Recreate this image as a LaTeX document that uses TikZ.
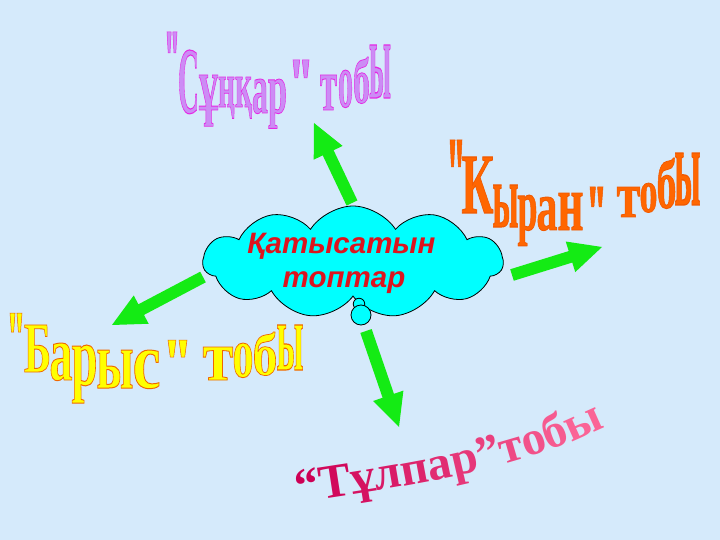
\documentclass[tikz,border=0pt]{standalone}
\usepackage{fontspec}
\setmainfont{Liberation Serif}
\newfontfamily\wafont{Liberation Serif Bold}[FakeBold=1.2]
\newfontfamily\tulfont{Liberation Serif}
\newfontfamily\capfont{Liberation Sans}
\usetikzlibrary{shapes.symbols,calc,decorations.text}
\definecolor{bgblue}{RGB}{213,234,251}
\definecolor{agreen}{RGB}{20,235,20}
\definecolor{ccyan}{RGB}{0,255,255}
\definecolor{capred}{RGB}{220,20,30}
\definecolor{tlL}{RGB}{205,0,85}
\definecolor{tlR}{RGB}{250,100,150}
% fill and outline colours of the WordArt titles (pdf colour specials)
\newcommand\sC{[0.80 0.55 0.96] [0.90 0.16 0.90]}
\newcommand\bC{[1 1 0] [0.94 0.40 0]}
\newcommand\kC{[1 0.40 0] [0.94 0.35 0]}
\newcommand\waf{\wafont\fontsize{20}{24}\selectfont}
\newcommand\capf{\capfont\bfseries\itshape\fontsize{29.5}{34}\selectfont}
\newcommand\tulf{\tulfont\bfseries\fontsize{48}{50}\selectfont}
\newcounter{wcn}
% x-centre, baseline, width, height, char, colours
\newcommand\wc[6]{\stepcounter{wcn}\node[anchor=base,inner sep=0pt] (wc\thewcn) at (#1,#2) {\waf\special{pdf:bcolor #6}\resizebox{#3pt}{#4pt}{#5}\special{pdf:ecolor}};}
% left, top, width, height, fill, outline
\newcommand\wq[6]{\foreach \qd in {0,0.58}{\filldraw[fill=#5,draw=#6,line width=0.5pt] ({#1+\qd*#3},#2) -- ({#1+(\qd+0.42)*#3},#2) -- ({#1+(\qd+0.3)*#3},{#2+#4}) -- ({#1+(\qd+0.12)*#3},{#2+#4}) -- cycle;}}
\definecolor{sfill}{RGB}{205,140,245}
\definecolor{sline}{RGB}{230,40,230}
\definecolor{bfill}{RGB}{255,255,0}
\definecolor{bline}{RGB}{240,100,0}
\definecolor{kfill}{RGB}{255,102,0}
\definecolor{kline}{RGB}{240,90,0}
% block arrow from tail to tip
\newcommand\garrow[2]{%
  \coordinate (#1h) at ($(#2)!33pt!(#1)$);
  \fill[agreen] ($(#1)!6pt!90:(#2)$) -- ($(#1h)!6pt!90:(#2)$) -- ($(#1h)!16pt!90:(#2)$) -- (#2)
    -- ($(#1h)!16pt!-90:(#2)$) -- ($(#1h)!6pt!-90:(#2)$) -- ($(#1)!6pt!-90:(#2)$) -- cycle;}
\begin{document}
\begin{tikzpicture}[x=1pt,y=-1pt]
\useasboundingbox (0,0) rectangle (720,540);
\fill[bgblue] (0,0) rectangle (720,540);
% arrows
\coordinate (tU) at (352,203); \coordinate (pU) at (314,123);
\coordinate (tR) at (512,275); \coordinate (pR) at (602,247);
\coordinate (tL) at (203,277); \coordinate (pL) at (112,325);
\coordinate (tD) at (366,331); \coordinate (pD) at (399,427);
\garrow{tU}{pU}
\garrow{tR}{pR}
\garrow{tL}{pL}
\garrow{tD}{pD}
% cloud
\node[cloud, cloud puffs=11, cloud puff arc=115, aspect=2.6, draw=black, fill=ccyan, line width=0.8pt,
  minimum width=300pt, minimum height=112pt, inner sep=0pt] (cloud) at (353,262) {};
\node[circle, draw=black, fill=ccyan, line width=0.8pt, minimum size=11.5pt, inner sep=0pt] (b1) at (359,304) {};
\node[circle, draw=black, fill=ccyan, line width=0.8pt, minimum size=20pt, inner sep=0pt] (b2) at (361,315) {};
\node[anchor=base, inner sep=0pt, font=\capf, text=capred] (l1) at (341.5,253) {Қатысатын};
\node[anchor=base, inner sep=0pt, font=\capf, text=capred] (l2) at (344,287) {топтар};
% "Сұңқар" тобы
\wq{167}{32}{10}{21}{sfill}{sline}
\wc{188.5}{113}{21}{63}{С}{\sC}
\wc{208.5}{110}{19}{35}{ұ}{\sC}
\wc{226.5}{107}{17}{30}{ң}{\sC}
\wc{243.5}{107}{17}{30}{қ}{\sC}
\wc{260}{113}{16}{34}{а}{\sC}
\wc{277.5}{113}{19}{34}{р}{\sC}
\wq{293}{60}{16}{18}{sfill}{sline}
\wc{328.5}{110}{17}{35}{т}{\sC}
\wc{345.5}{107}{15}{37}{о}{\sC}
\wc{361.5}{103}{17}{46}{б}{\sC}
\wc{380}{98}{22}{53}{ы}{\sC}
% "Барыс" тобы
\wq{10}{313}{12}{19}{bfill}{bline}
\wc{37.5}{372}{27}{47}{Б}{\bC}
\wc{61}{380}{23}{37}{а}{\bC}
\wc{84.5}{385}{26}{40}{р}{\bC}
\wc{115}{388}{37}{38}{ы}{\bC}
\wc{146.5}{388}{28}{38}{с}{\bC}
\wq{168}{340}{19}{17}{bfill}{bline}
\wc{218}{380}{31}{33}{т}{\bC}
\wc{243}{377}{21}{34}{о}{\bC}
\wc{265}{375}{25}{43}{б}{\bC}
\wc{290}{370}{27}{45}{ы}{\bC}
% "Кыран" тобы
\wq{450}{140}{12}{27}{kfill}{kline}
\wc{477.5}{213}{32}{56}{К}{\kC}
\wc{505.5}{227}{26}{42}{ы}{\kC}
\wc{527.5}{230}{20}{35}{р}{\kC}
\wc{547}{230}{21}{33}{а}{\kC}
\wc{570.5}{230}{26}{37}{н}{\kC}
\wq{590}{187}{13}{20}{kfill}{kline}
\wc{628.5}{217}{24}{30}{т}{\kC}
\wc{648.5}{212}{18}{29}{о}{\kC}
\wc{666.5}{208}{20}{50}{б}{\kC}
\wc{687.5}{205}{26}{52}{ы}{\kC}
% “Тұлпар”тобы
\begin{scope}[yscale=-1]
\path[decorate, decoration={text along path, text align=center,
  text={|\tulf\color{tlL!100!tlR}|“|\tulf\color{tlL!91!tlR}|Т|\tulf\color{tlL!82!tlR}|ұ|\tulf\color{tlL!73!tlR}|л|\tulf\color{tlL!64!tlR}|п|\tulf\color{tlL!55!tlR}|а|\tulf\color{tlL!45!tlR}|р|\tulf\color{tlL!36!tlR}|”|\tulf\color{tlL!27!tlR}|т|\tulf\color{tlL!18!tlR}|о|\tulf\color{tlL!9!tlR}|б|\tulf\color{tlL!0!tlR}|ы}}]
  (297,-503) .. controls (396,-488) and (515,-472) .. (606,-426);
\end{scope}
\end{tikzpicture}
\end{document}
